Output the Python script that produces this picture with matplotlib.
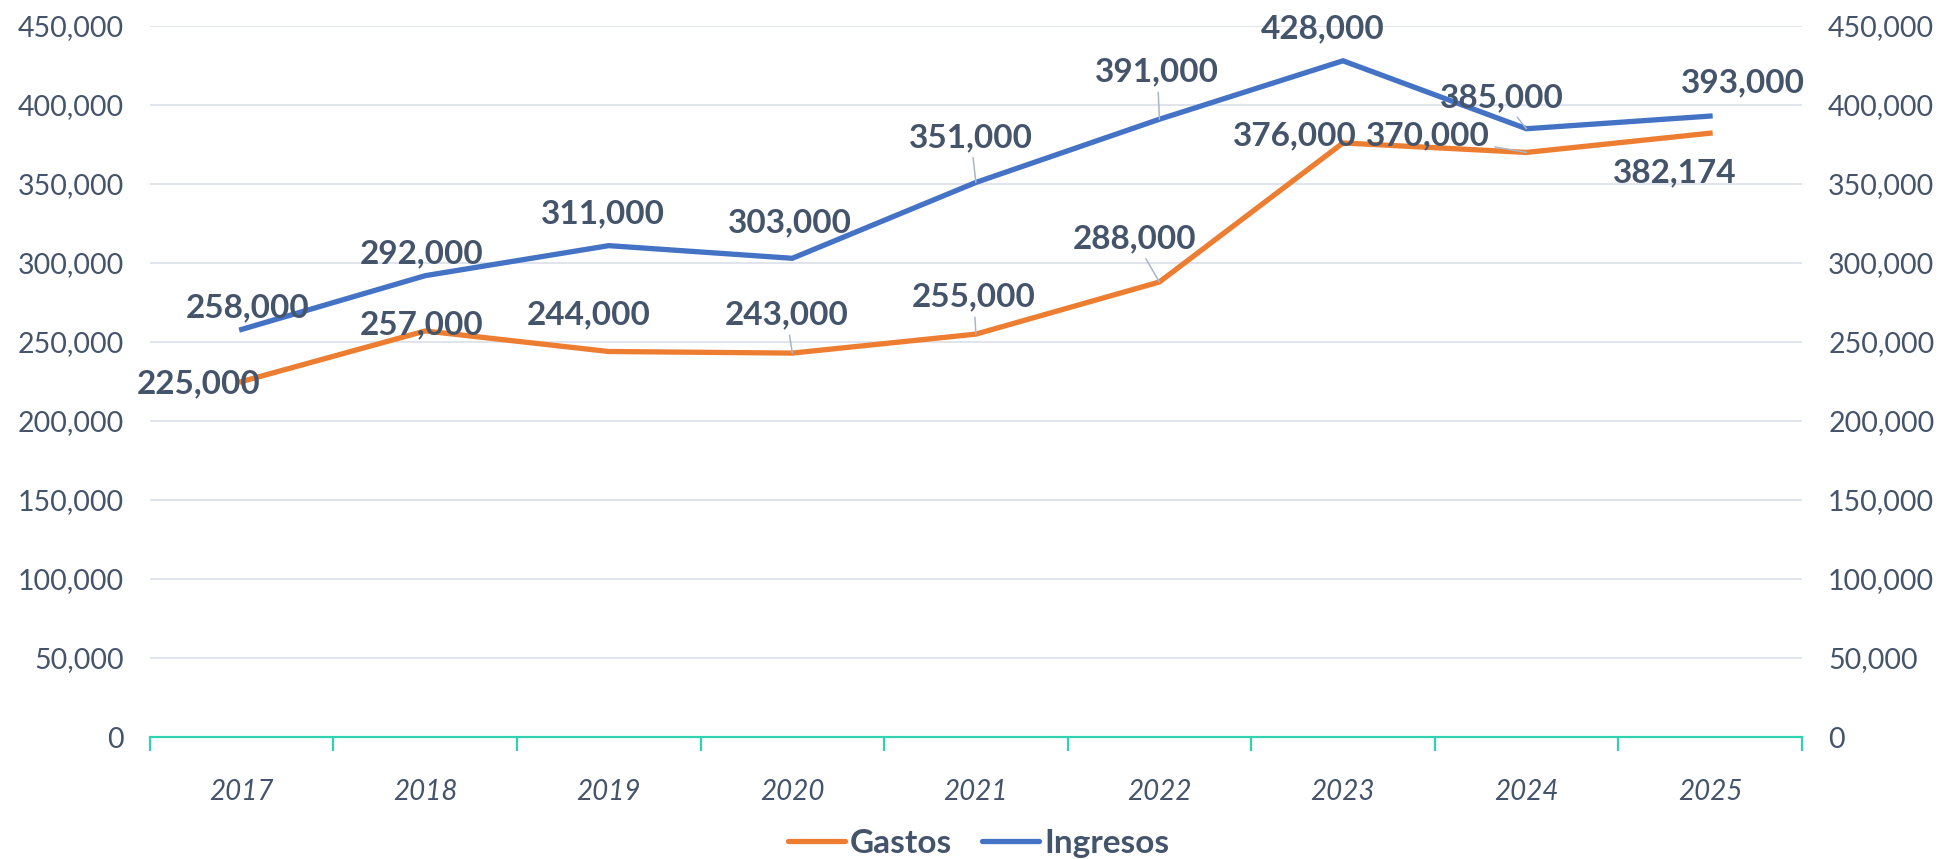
import matplotlib
matplotlib.use("Agg")
import matplotlib.pyplot as plt
from matplotlib.ticker import FuncFormatter, FixedLocator

plt.rcParams['font.family'] = ['Lato', 'DejaVu Sans']

years = ["2017", "2018", "2019", "2020", "2021", "2022", "2023", "2024", "2025"]
gastos = [225000, 257000, 244000, 243000, 255000, 288000, 376000, 370000, 382174]
ingresos = [258000, 292000, 311000, 303000, 351000, 391000, 428000, 385000, 393000]

# label offsets in pixels (dx, dy), and whether a leader line is drawn
off_ing = [(6, 22), (-4, 22), (-6, 32), (-2, 35), (-5, 45), (-2, 47), (-20, 32), (-25, 31), (33, 33)]
lead_ing = [0, 0, 0, 0, 1, 1, 0, 1, 0]
off_gas = [(-43, -2), (-4, 6), (-20, 37), (-6, 38), (-2, 37), (-25, 43), (-48, 7), (-99, 17), (-35, -40)]
lead_gas = [0, 0, 0, 1, 1, 1, 0, 1, 0]

txt = "#44546A"
orange = "#ED7D31"
blue = "#4472C4"
teal = "#2FD3B0"

fig = plt.figure(figsize=(19.42, 8.59), dpi=100)
ax = fig.add_axes([0.0772, 0.142, 0.8506, 0.8277])
x = list(range(len(years)))

ax.plot(x, gastos, color=orange, lw=3.8, label="Gastos", solid_joinstyle="miter", zorder=3)
ax.plot(x, ingresos, color=blue, lw=3.8, label="Ingresos", solid_joinstyle="miter", zorder=3)

ax.set_xlim(-0.5, len(years) - 0.5)
ax.set_ylim(0, 450000)
ax.set_yticks(range(0, 450001, 50000))
fmt = FuncFormatter(lambda v, p: f"{int(v):,}")
ax.yaxis.set_major_formatter(fmt)
ax.grid(axis="y", color="#DDE2EA", lw=1.3, zorder=0)
for s in ["top", "left", "right"]:
    ax.spines[s].set_visible(False)
ax.spines["bottom"].set_color(teal)
ax.spines["bottom"].set_linewidth(1.6)
ax.tick_params(axis="y", length=0, pad=19, labelsize=20.5, labelcolor=txt)

ax.set_xticks(x)
ax.set_xticklabels(years, fontstyle="italic")
ax.tick_params(axis="x", which="major", length=0, pad=30, labelsize=20, labelcolor=txt)
ax.xaxis.set_minor_locator(FixedLocator([i - 0.5 for i in range(len(years) + 1)]))
ax.tick_params(axis="x", which="minor", length=10, width=1.6, color=teal)

ax2 = ax.twinx()
ax2.set_ylim(ax.get_ylim())
ax2.set_yticks(range(0, 450001, 50000))
ax2.yaxis.set_major_formatter(fmt)
for s in ["top", "left", "right", "bottom"]:
    ax2.spines[s].set_visible(False)
ax2.tick_params(axis="y", length=0, pad=19, labelsize=20.5, labelcolor=txt)

def label(series, offs, leads):
    for i, v in enumerate(series):
        ap = None
        if leads[i]:
            ap = dict(arrowstyle="-", color="#A9B6C8", lw=1.1, shrinkA=2, shrinkB=0)
        ax.annotate(f"{v:,}", (i, v), xytext=offs[i], textcoords="offset pixels",
                    ha="center", va="center", fontsize=24, fontweight="bold",
                    color=txt, arrowprops=ap, zorder=4)

label(ingresos, off_ing, lead_ing)
label(gastos, off_gas, lead_gas)

leg = fig.legend(loc="center", bbox_to_anchor=(0.504, 0.018), ncol=2, frameon=False,
                 handlelength=1.7, columnspacing=0.9, handletextpad=0.15,
                 prop=dict(size=24, weight="bold"))
for t in leg.get_texts():
    t.set_color(txt)
for h in leg.get_lines():
    h.set_solid_capstyle("round")

fig.savefig("out.png", dpi=100)
